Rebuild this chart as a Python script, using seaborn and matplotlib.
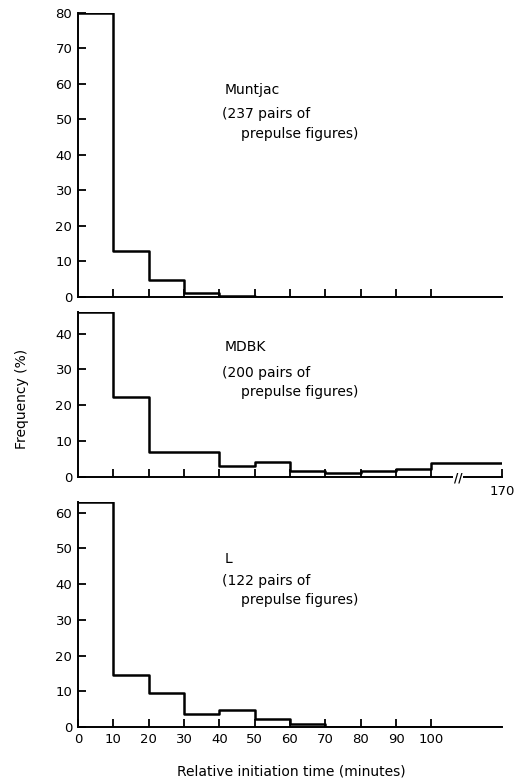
import numpy as np
import pandas as pd
import seaborn as sns
import matplotlib
matplotlib.use("Agg")
import matplotlib.pyplot as plt

# bins in minutes (last bin of MDBK is 100-170, drawn compressed to 100-120)
bin_edges = [0, 10, 20, 30, 40, 50, 60, 70, 80, 90, 100, 120]
bin_mids = [5, 15, 25, 35, 45, 55, 65, 75, 85, 95, 110]

muntjac = [80, 13, 4.8, 1.2, 0.4, 0, 0, 0, 0, 0, 0]
mdbk = [46, 22.3, 6.9, 6.9, 3.0, 4.2, 1.6, 1.1, 1.6, 2.3, 3.9]
lcell = [63, 14.6, 9.6, 3.7, 4.9, 2.3, 0.9, 0, 0, 0, 0]

names = ["Muntjac", "MDBK", "L"]
pairs = ["(237 pairs of", "(200 pairs of", "(122 pairs of"]
ymax = [80, 46, 63]
yticks = [[0, 10, 20, 30, 40, 50, 60, 70, 80], [0, 10, 20, 30, 40], [0, 10, 20, 30, 40, 50, 60]]
xticks = [0, 10, 20, 30, 40, 50, 60, 70, 80, 90, 100]

sns.set_style("ticks", {"text.color": "black", "xtick.color": "black",
                        "ytick.color": "black", "axes.edgecolor": "black",
                        "axes.labelcolor": "black"})
plt.rcParams['font.family'] = ['DejaVu Sans']

fig = plt.figure(figsize=(5.16, 7.83), dpi=100)
# [left, bottom, width, height]
pos = [[0.151, 0.6207, 0.822, 0.3627],
       [0.151, 0.3908, 0.822, 0.2107],
       [0.151, 0.0715, 0.822, 0.2874]]

series = [muntjac, mdbk, lcell]
axes = []
for i in range(3):
    ax = fig.add_axes(pos[i])
    df = pd.DataFrame({'t': bin_mids, 'f': series[i]})
    sns.histplot(data=df, x='t', weights='f', bins=bin_edges, element='step',
                 fill=False, color='black', linewidth=1.8, ax=ax)
    ax.set_xlim(0, 120)
    ax.set_ylim(0, ymax[i])
    ax.set_yticks(yticks[i])
    ax.set_ylabel('')
    ax.set_xlabel('')
    sns.despine(ax=ax)
    for s in ['left', 'bottom']:
        ax.spines[s].set_linewidth(1.4)
    ax.tick_params(direction='in', length=6, width=1.3, labelsize=9.5, pad=4)
    axes.append(ax)

# top panel: ticks without labels
axes[0].set_xticks(xticks[1:])
axes[0].set_xticklabels([])

# middle panel: broken axis, right end = 170
axes[1].set_xticks(xticks[1:] + [120])
axes[1].set_xticklabels([''] * 10 + ['170'], fontsize=9.5)
axes[1].tick_params(axis='x', pad=6)
axes[1].text(107.5, -0.3, '//', ha='center', va='center', fontsize=8.5,
             fontweight='bold',
             bbox=dict(facecolor='white', edgecolor='none', pad=0.3))

# bottom panel
axes[2].set_xticks(xticks)
axes[2].set_xticklabels([str(v) for v in xticks], fontsize=9.5)

# labels inside panels (axes fraction)
txt_y = [[0.73, 0.645, 0.575], [0.79, 0.63, 0.515], [0.745, 0.65, 0.565]]
for i, ax in enumerate(axes):
    ax.text(0.345, txt_y[i][0], names[i], transform=ax.transAxes, fontsize=10, va='center')
    ax.text(0.34, txt_y[i][1], pairs[i], transform=ax.transAxes, fontsize=10, va='center')
    ax.text(0.385, txt_y[i][2], 'prepulse figures)', transform=ax.transAxes, fontsize=10, va='center')

fig.text(0.043, 0.49, 'Frequency (%)', rotation=90, ha='center', va='center', fontsize=10)
fig.text(0.565, 0.015, 'Relative initiation time (minutes)', ha='center', va='center', fontsize=10)

plt.savefig('out.png', dpi=100)
